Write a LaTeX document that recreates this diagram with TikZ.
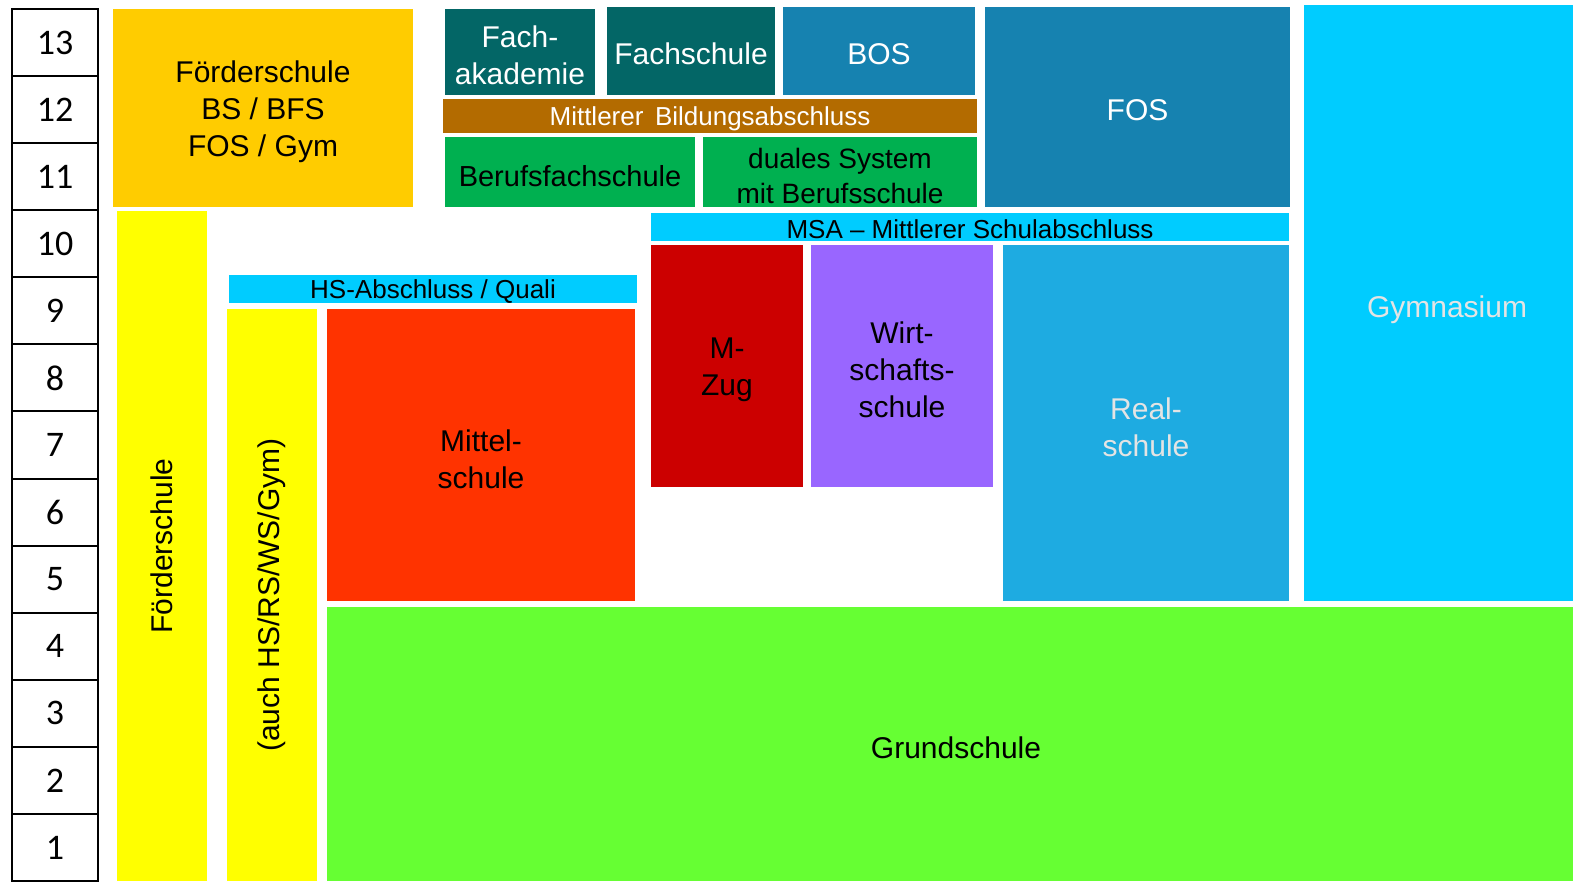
\documentclass[tikz,border=0pt]{standalone}
\usepackage{fontspec}
\setmainfont{Liberation Sans}
\newfontfamily\gradeFont{Carlito}
\usepackage{tikz}
\usetikzlibrary{positioning}
\tikzstyle{schoolPlan} = [x = 1pt, y = -1pt, every node/.style={inner sep=0pt}]
\definecolor{foerderOrange}{RGB}{255,204,0}
\definecolor{foerderYellow}{RGB}{255,255,0}
\definecolor{fachTeal}{RGB}{3,102,102}
\definecolor{fosBlue}{RGB}{22,130,176}
\definecolor{bildungBrown}{RGB}{179,107,0}
\definecolor{berufGreen}{RGB}{0,176,80}
\definecolor{abschlussCyan}{RGB}{0,204,255}
\definecolor{mittelRed}{RGB}{255,51,0}
\definecolor{zugRed}{RGB}{204,0,0}
\definecolor{wirtViolet}{RGB}{153,102,255}
\definecolor{realBlue}{RGB}{30,171,225}
\definecolor{grundGreen}{RGB}{102,255,51}
\definecolor{paleText}{RGB}{228,228,228}
\tikzstyle{boxText} = [align=center, font=\fontsize{30}{37}\selectfont, midway]
\tikzstyle{darkText} = [text=black, yshift=-4pt]
\tikzstyle{lightText} = [text=white, yshift=-3pt]
\tikzstyle{paleLabel} = [text=paleText, yshift=-4pt]
\tikzstyle{barText} = [font=\fontsize{26}{30}\selectfont]
\tikzstyle{smallText} = [font=\fontsize{28}{35}\selectfont]
\tikzstyle{gradeLine} = [color=black, line width=2pt]
\tikzstyle{gradeText} = [font=\gradeFont\fontsize{36}{40}\selectfont, midway]
\newcommand{\schoolBox}[8]{\fill [fill=#2] (#3, #4) rectangle (#5, #6) node [boxText, #7] (#1) {#8};}
\newcommand{\gradeColumn}[3]{
  \foreach \grade in {1,...,#1} {
    \pgfmathsetmacro{\rowTop}{#2 + (#1 - \grade) * #3}
    \draw [gradeLine] (12, \rowTop) rectangle + (86, #3) node [gradeText] (grade\grade) {\grade};
  }
}

\begin{document}
\begin{tikzpicture}[schoolPlan]
          \useasboundingbox (0, 0) rectangle (1573, 881);
          \gradeColumn{13}{9}{67.08}
          \schoolBox{foerderTop}{foerderOrange}{113}{9}{413}{207}{darkText}{F\"orderschule\\BS / BFS\\FOS / Gym}
          \schoolBox{foerderSide}{foerderYellow}{117}{211}{207}{881}{text=black, rotate=90}{F\"orderschule}
          \schoolBox{auchSide}{foerderYellow}{227}{309}{317}{881}{text=black, rotate=90}{(auch HS/RS/WS/Gym)}
          \schoolBox{fachakademie}{fachTeal}{445}{9}{595}{95}{lightText}{Fach-\\akademie}
          \schoolBox{fachschule}{fachTeal}{607}{7}{775}{95}{lightText}{Fachschule}
          \schoolBox{bos}{fosBlue}{783}{7}{975}{95}{lightText}{BOS}
          \schoolBox{bildungBar}{bildungBrown}{443}{99}{977}{133}{lightText, barText}{Mittlerer\, Bildungsabschluss}
          \schoolBox{berufsfach}{berufGreen}{445}{137}{695}{207}{darkText, font=\fontsize{29}{35}\selectfont}{Berufsfachschule}
          \schoolBox{dual}{berufGreen}{703}{137}{977}{207}{darkText, smallText}{duales System\\mit Berufsschule}
          \schoolBox{fos}{fosBlue}{985}{7}{1290}{207}{lightText}{FOS}
          \schoolBox{gymnasium}{abschlussCyan}{1304}{5}{1590}{601}{paleLabel, yshift=-3pt}{Gymnasium}
          \schoolBox{msaBar}{abschlussCyan}{651}{213}{1289}{241}{darkText, barText, yshift=2pt}{MSA -- Mittlerer Schulabschluss}
          \schoolBox{hsBar}{abschlussCyan}{229}{275}{637}{303}{darkText, barText, yshift=1pt}{HS-Abschluss / Quali}
          \schoolBox{mittelschule}{mittelRed}{327}{309}{635}{601}{darkText}{Mittel-\\schule}
          \schoolBox{mZug}{zugRed}{651}{245}{803}{487}{darkText}{M-\\Zug}
          \schoolBox{wirtschaft}{wirtViolet}{811}{245}{993}{487}{darkText}{Wirt-\\schafts-\\schule}
          \schoolBox{realschule}{realBlue}{1003}{245}{1289}{601}{paleLabel}{Real-\\schule}
          \schoolBox{grundschule}{grundGreen}{327}{607}{1585}{881}{darkText}{Grundschule}
        \end{tikzpicture}
\end{document}
